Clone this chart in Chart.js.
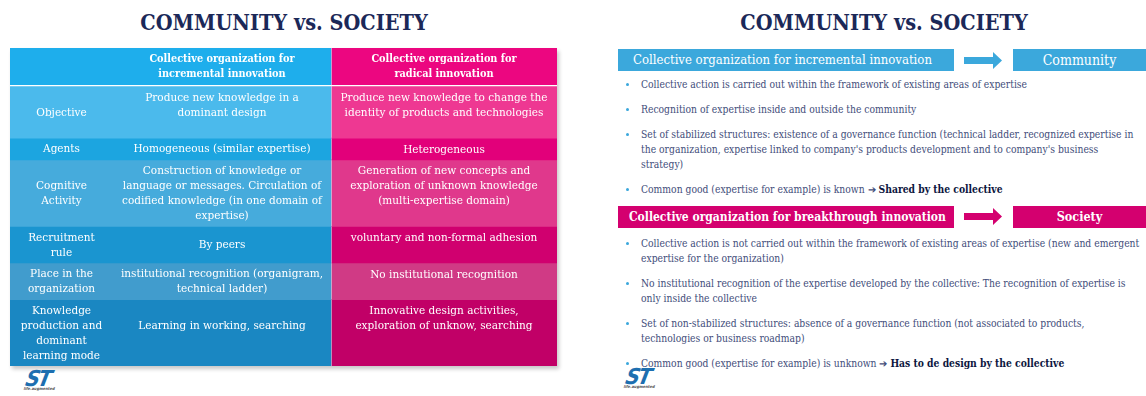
<!DOCTYPE html>
<html>
<head>
<meta charset="utf-8">
<title>Community vs. Society</title>
<script src="https://cdn.jsdelivr.net/npm/chart.js@4.4.0/dist/chart.umd.min.js"></script>
<style>
    body {
        margin: 0;
        width: 1146px;
        height: 396px;
        background: #fff;
        position: relative;
        overflow: hidden;
        font-family: "DejaVu Serif Condensed", "DejaVu Serif", serif;
        font-stretch: condensed;
    }
    .title {
        position: absolute;
        top: 10px;
        font-size: 21.5px;
        font-weight: bold;
        color: #1b2858;
        text-align: center;
        white-space: nowrap;
    }
    #tableWrap {
        position: absolute;
        left: 10px;
        top: 48px;
        width: 547px;
        box-shadow: 2px 3px 4px rgba(0, 0, 0, 0.22);
    }
    #cells { position: absolute; left: 0; top: 0; right: 0; bottom: 0; pointer-events: none; }
    .cell {
        position: absolute;
        box-sizing: border-box;
        display: flex;
        flex-direction: column;
        color: #fff;
        font-size: 11.7px;
        line-height: 15px;
        text-align: center;
        white-space: nowrap;
    }
    .cell.head { font-weight: bold; font-size: 10.8px; }
    .box {
        position: absolute;
        height: 22px;
        line-height: 22px;
        color: #fff;
        font-size: 13px;
        white-space: nowrap;
        box-sizing: border-box;
    }
    .arrow { position: absolute; }
    .points {
        position: absolute;
        left: 641px;
        margin: 0;
        padding: 0;
        list-style: none;
        color: #424d7a;
        font-size: 10.25px;
        line-height: 15px;
    }
    .points li { position: relative; margin-bottom: 10px; white-space: pre; }
    .points li::before {
        content: "";
        position: absolute;
        left: -15px;
        top: 6px;
        width: 3px;
        height: 3px;
        border-radius: 50%;
        background: #3aa7dc;
    }
    .points b { color: #0d1640; }
    .logo {
        position: absolute;
        font-family: "DejaVu Sans", sans-serif;
        font-weight: bold;
        font-style: italic;
        font-size: 22px;
        letter-spacing: -2px;
        color: #1d6fb0;
        transform: skewX(-12deg);
    }
    .logo small {
        display: block;
        font-size: 4px;
        letter-spacing: 0;
        color: #555;
        font-style: normal;
        margin-top: -5px;
    }
</style>
</head>
<body>

<div class="title" style="left:0; width:568px;">COMMUNITY vs. SOCIETY</div>
<div class="title" style="left:600px; width:568px;">COMMUNITY vs. SOCIETY</div>

<div id="tableWrap">
    <canvas id="table"></canvas>
    <div id="cells"></div>
</div>

<div class="box" id="box1" style="left:618px; top:49px; width:336px; background:#3ba8dc; padding-left:15px;"></div>
<svg class="arrow" style="left:964px; top:52px;" width="40" height="18"><polygon points="0,5 29,5 29,0 38,8.5 29,17 29,12 0,12" fill="#3ba8dc"/></svg>
<div class="box" id="box2" style="left:1013px; top:49px; width:133px; background:#3ba8dc; text-align:center; font-size:14px;"></div>
<ul class="points" id="points1" style="top:77px;"></ul>

<div class="box" id="box3" style="left:618px; top:206px; width:336px; background:#d4006f; padding-left:11px; font-weight:bold; font-size:12px;"></div>
<svg class="arrow" style="left:964px; top:208px;" width="40" height="18"><polygon points="0,5 29,5 29,0 38,8.5 29,17 29,12 0,12" fill="#d4006f"/></svg>
<div class="box" id="box4" style="left:1013px; top:206px; width:133px; background:#d4006f; text-align:center; font-weight:bold; font-size:12.5px;"></div>
<ul class="points" id="points2" style="top:236px;"></ul>

<div class="logo" style="left:26px; top:366px;">ST<small>life.augmented</small></div>
<div class="logo" style="left:626px; top:364px;">ST<small>life.augmented</small></div>

<script>
// ---- table content ----
const columnTitles = ['', 'Collective organization for\nincremental innovation', 'Collective organization for\nradical innovation'];
const rowLabels = ['Objective', 'Agents', 'Cognitive\nActivity', 'Recruitment\nrule', 'Place in the\norganization', 'Knowledge\nproduction and\ndominant\nlearning mode'];
const incremental = [
    'Produce new knowledge in a\ndominant design\n',
    'Homogeneous (similar expertise)',
    'Construction of knowledge or\nlanguage or messages. Circulation of\ncodified knowledge (in one domain of\nexpertise)',
    'By peers',
    'institutional recognition (organigram,\ntechnical ladder)',
    'Learning in working, searching\n'
];
const radical = [
    'Produce new knowledge to change the\nidentity of products and technologies',
    'Heterogeneous',
    'Generation of new concepts and\nexploration of unknown knowledge\n(multi-expertise domain)',
    'voluntary and non-formal adhesion',
    'No institutional recognition',
    'Innovative design activities,\nexploration of unknow, searching'
];
// header + 6 rows, row height counted in text lines
const rowLines = [2, 3, 1, 4, 2, 2, 4];

// ---- right slide content ----
const communityTitle = 'Collective organization for incremental innovation';
const communityName = 'Community';
const communityPoints = [
    ['Collective action is carried out within the framework of existing areas of expertise', ''],
    ['Recognition of expertise inside and outside the community', ''],
    ['Set of stabilized structures: existence of a governance function (technical ladder, recognized expertise in\nthe organization, expertise linked to company\'s products development and to company\'s business\nstrategy)', ''],
    ['Common good (expertise for example) is known \u2794 ', 'Shared by the collective']
];
const societyTitle = 'Collective organization for breakthrough innovation';
const societyName = 'Society';
const societyPoints = [
    ['Collective action is not carried out within the framework of existing areas of expertise (new and emergent\nexpertise for the organization)', ''],
    ['No institutional recognition of the expertise developed by the collective: The recognition of expertise is\nonly inside the collective', ''],
    ['Set of non-stabilized structures: absence of a governance function (not associated to products,\ntechnologies or business roadmap)', ''],
    ['Common good (expertise for example) is unknown \u2794 ', 'Has to de design by the collective']
];

// ---- styling ----
const BLUES = ['#1eaeec', '#4bbaec', '#1ca5e0', '#46abdc', '#1a95d0', '#419ccd', '#1a87c2'];
const PINKS = ['#ec0680', '#ee3892', '#e2007a', '#e0388c', '#d0006f', '#d03a85', '#c10067'];
const LINE_H = 15;
const ROW_PAD = 6.6;
const HEADER_GAP = 2;
const COL_EDGES = [0, 103, 321, 547];
const PINK_GAP = 1;

// row extents in table units (1 unit = 1px)
const rows = [];
let cursor = 0;
rowLines.forEach((n, i) => {
    const h = n * LINE_H + ROW_PAD;
    rows.push({ start: cursor, end: cursor + h });
    cursor += h + (i === 0 ? HEADER_GAP : 0);
});
const tableHeight = cursor;

const wrap = document.getElementById('tableWrap');
wrap.style.height = tableHeight + 'px';

const datasets = rows.map((r, i) => ({
    label: i === 0 ? 'header' : rowLabels[i - 1],
    data: [
        { y: (r.start + r.end) / 2, x: [COL_EDGES[0], COL_EDGES[2]] },
        { y: (r.start + r.end) / 2, x: [COL_EDGES[2] + PINK_GAP, COL_EDGES[3]] }
    ],
    backgroundColor: [BLUES[i], PINKS[i]],
    barThickness: r.end - r.start,
    grouped: false,
    borderWidth: 0
}));

function makeCell(parent, text, left, top, width, height, align, cls) {
    const div = document.createElement('div');
    div.className = 'cell' + (cls ? ' ' + cls : '');
    div.style.left = left + 'px';
    div.style.top = top + 'px';
    div.style.width = width + 'px';
    div.style.height = height + 'px';
    div.style.justifyContent = align === 'top' ? 'flex-start' : 'center';
    if (align === 'top') div.style.paddingTop = '3.5px';
    text.split('\n').forEach(line => {
        const l = document.createElement('div');
        l.textContent = line || '\u00a0';
        div.appendChild(l);
    });
    parent.appendChild(div);
}

const cellText = {
    id: 'cellText',
    afterRender(chart) {
        const host = document.getElementById('cells');
        host.innerHTML = '';
        const xs = chart.scales.x, ys = chart.scales.y;
        const px = COL_EDGES.map(v => xs.getPixelForValue(v));
        rows.forEach((r, i) => {
            const top = ys.getPixelForValue(r.start);
            const h = ys.getPixelForValue(r.end) - top;
            if (i === 0) {
                makeCell(host, columnTitles[1], px[1], top, px[2] - px[1], h, 'middle', 'head');
                makeCell(host, columnTitles[2], px[2], top, px[3] - px[2], h, 'middle', 'head');
                return;
            }
            makeCell(host, rowLabels[i - 1], px[0], top, px[1] - px[0], h, 'middle');
            makeCell(host, incremental[i - 1], px[1], top, px[2] - px[1], h, 'middle');
            makeCell(host, radical[i - 1], px[2], top, px[3] - px[2], h, 'top');
        });
    }
};

new Chart(document.getElementById('table'), {
    type: 'bar',
    data: { datasets },
    options: {
        indexAxis: 'y',
        responsive: true,
        maintainAspectRatio: false,
        animation: false,
        events: [],
        layout: { padding: 0 },
        plugins: { legend: { display: false }, tooltip: { enabled: false } },
        scales: {
            x: { type: 'linear', min: COL_EDGES[0], max: COL_EDGES[3], offset: false, display: false },
            y: { type: 'linear', min: 0, max: tableHeight, reverse: true, offset: false, display: false }
        }
    },
    plugins: [cellText]
});

// right slide
document.getElementById('box1').textContent = communityTitle;
document.getElementById('box2').textContent = communityName;
document.getElementById('box3').textContent = societyTitle;
document.getElementById('box4').textContent = societyName;

function fillPoints(id, points) {
    const ul = document.getElementById(id);
    points.forEach(([text, bold]) => {
        const li = document.createElement('li');
        li.appendChild(document.createTextNode(text));
        if (bold) {
            const b = document.createElement('b');
            b.textContent = bold;
            li.appendChild(b);
        }
        ul.appendChild(li);
    });
}
fillPoints('points1', communityPoints);
fillPoints('points2', societyPoints);
</script>
</body>
</html>
